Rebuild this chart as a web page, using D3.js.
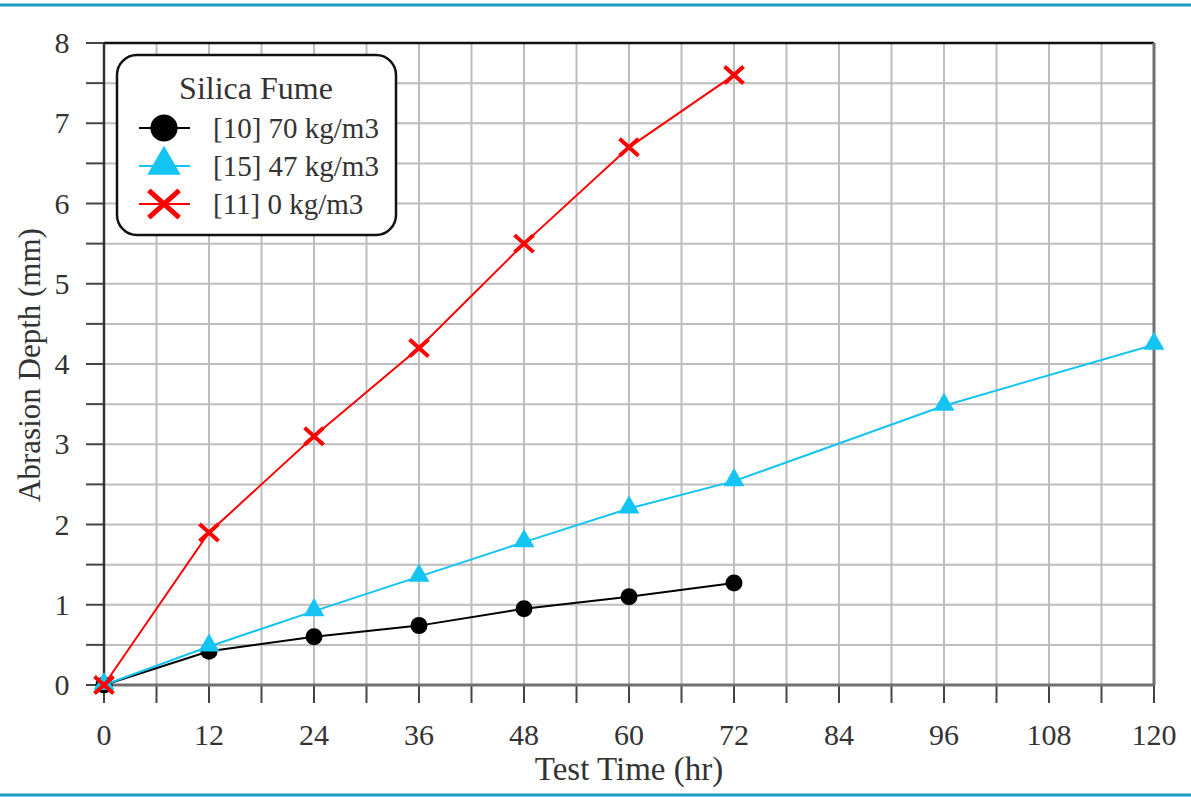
<!DOCTYPE html>
<html>
<head>
<meta charset="utf-8">
<script src="https://cdn.jsdelivr.net/npm/d3@7"></script>
<style>
  body { margin: 0; background: #fff; }
  svg text { font-family: "Liberation Serif", "Times New Roman", Times, serif; fill: #333; }
</style>
</head>
<body>
<svg width="1191" height="797"></svg>
<script>
"use strict";

var hours = [0, 12, 24, 36, 48, 60, 72, 96, 120];
var sf70 = [0, 0.42, 0.6, 0.74, 0.95, 1.1, 1.27];
var sf47 = [0, 0.48, 0.92, 1.35, 1.78, 2.2, 2.54, 3.48, 4.24];
var sf0 = [0, 1.9, 3.1, 4.2, 5.5, 6.7, 7.6];
var seriesNames = ["[10] 70 kg/m3", "[15] 47 kg/m3", "[11] 0 kg/m3"];
var xTicks = [0, 12, 24, 36, 48, 60, 72, 84, 96, 108, 120];
var yTicks = [0, 1, 2, 3, 4, 5, 6, 7, 8];

var svg = d3.select("svg");
var plotL = 104, plotR = 1154, plotT = 43, plotB = 685;

var x = d3.scaleLinear().domain([0, 120]).range([plotL, plotR]);
var y = d3.scaleLinear().domain([0, 8]).range([plotB, plotT]);

// teal rules top and bottom
svg.append("line").attr("x1", 0).attr("x2", 1191).attr("y1", 5).attr("y2", 5)
  .attr("stroke", "#1a9bc0").attr("stroke-width", 3);
svg.append("line").attr("x1", 0).attr("x2", 1191).attr("y1", 795).attr("y2", 795)
  .attr("stroke", "#1a9bc0").attr("stroke-width", 3);

// grid every half step
var xMinor = d3.range(0, 121, 6);
var yMinor = d3.range(0, 8.01, 0.5);

svg.append("g").selectAll("line").data(xMinor).enter().append("line")
  .attr("x1", function (d) { return x(d); }).attr("x2", function (d) { return x(d); })
  .attr("y1", plotT).attr("y2", plotB)
  .attr("stroke", "#bdbdbd").attr("stroke-width", 2);
svg.append("g").selectAll("line").data(yMinor).enter().append("line")
  .attr("x1", plotL).attr("x2", plotR)
  .attr("y1", function (d) { return y(d); }).attr("y2", function (d) { return y(d); })
  .attr("stroke", "#bdbdbd").attr("stroke-width", 2);

// tick marks outside
svg.append("g").selectAll("line").data(xMinor).enter().append("line")
  .attr("x1", function (d) { return x(d); }).attr("x2", function (d) { return x(d); })
  .attr("y1", plotB).attr("y2", plotB + 18)
  .attr("stroke", "#444").attr("stroke-width", 2);
svg.append("g").selectAll("line").data(yMinor).enter().append("line")
  .attr("x1", plotL - 18).attr("x2", plotL)
  .attr("y1", function (d) { return y(d); }).attr("y2", function (d) { return y(d); })
  .attr("stroke", "#444").attr("stroke-width", 2);

// frame
svg.append("line").attr("x1", plotL).attr("x2", plotR).attr("y1", plotT).attr("y2", plotT)
  .attr("stroke", "#111").attr("stroke-width", 2.5);
svg.append("line").attr("x1", plotR).attr("x2", plotR).attr("y1", plotT).attr("y2", plotB)
  .attr("stroke", "#707070").attr("stroke-width", 3);
svg.append("line").attr("x1", plotL).attr("x2", plotR).attr("y1", plotB).attr("y2", plotB)
  .attr("stroke", "#707070").attr("stroke-width", 3);
svg.append("line").attr("x1", plotL).attr("x2", plotL).attr("y1", plotT).attr("y2", plotB + 1)
  .attr("stroke", "#333").attr("stroke-width", 2.5);

// tick labels
svg.append("g").selectAll("text").data(xTicks).enter().append("text")
  .attr("x", function (d) { return x(d); }).attr("y", 745)
  .attr("text-anchor", "middle").attr("font-size", 30)
  .text(function (d) { return d; });
svg.append("g").selectAll("text").data(yTicks).enter().append("text")
  .attr("x", 62).attr("y", function (d) { return y(d) + 10; })
  .attr("text-anchor", "middle").attr("font-size", 30)
  .text(function (d) { return d; });

// axis titles
svg.append("text").attr("x", 629).attr("y", 780).attr("text-anchor", "middle")
  .attr("font-size", 33).text("Test Time (hr)");
svg.append("text").attr("transform", "translate(40," + 365 + ") rotate(-90)")
  .attr("text-anchor", "middle").attr("font-size", 31).text("Abrasion Depth (mm)");

// series
var series = [
  { name: seriesNames[0], values: sf70, color: "#000000", symbol: "circle" },
  { name: seriesNames[1], values: sf47, color: "#14c4f2", symbol: "triangle" },
  { name: seriesNames[2], values: sf0, color: "#ff0000", symbol: "cross" }
];

var line = d3.line()
  .x(function (d) { return x(d.h); })
  .y(function (d) { return y(d.v); });

function draw_marker(g, s, cx, cy, k) {
  if (s.symbol === "circle") {
    g.append("circle").attr("cx", cx).attr("cy", cy).attr("r", 8.5 * k).attr("fill", s.color);
  } else if (s.symbol === "triangle") {
    g.append("path").attr("d", d3.symbol().type(d3.symbolTriangle).size(190 * k * k)())
      .attr("transform", "translate(" + cx + "," + (cy - 1) + ")").attr("fill", s.color);
  } else {
    var h = 9.5 * k, v = 8.5 * k;
    g.append("path").attr("d", "M" + -h + "," + -v + "L" + h + "," + v + "M" + -h + "," + v + "L" + h + "," + -v)
      .attr("transform", "translate(" + cx + "," + cy + ")")
      .attr("stroke", s.color).attr("stroke-width", 4 * Math.sqrt(k)).attr("fill", "none");
  }
}

series.forEach(function (s) {
  var pts = s.values.map(function (v, i) { return { h: hours[i], v: v }; });
  var g = svg.append("g");
  g.append("path").datum(pts).attr("d", line)
    .attr("fill", "none").attr("stroke", s.color).attr("stroke-width", 2);
  pts.forEach(function (p) { draw_marker(g, s, x(p.h), y(p.v), 1); });
});

// legend
var lg = svg.append("g");
lg.append("rect").attr("x", 117).attr("y", 55).attr("width", 279).attr("height", 180)
  .attr("rx", 20).attr("ry", 20).attr("fill", "#fff").attr("stroke", "#111").attr("stroke-width", 2.5);
lg.append("text").attr("x", 256).attr("y", 99).attr("text-anchor", "middle")
  .attr("font-size", 32).text("Silica Fume");
series.forEach(function (s, i) {
  var ly = 128 + i * 38;
  lg.append("line").attr("x1", 139).attr("x2", 190).attr("y1", ly).attr("y2", ly)
    .attr("stroke", s.color).attr("stroke-width", 2);
  draw_marker(lg, s, 164, ly, 1.6);
  lg.append("text").attr("x", 213).attr("y", ly + 10).attr("font-size", 29).text(s.name);
});
</script>
</body>
</html>
